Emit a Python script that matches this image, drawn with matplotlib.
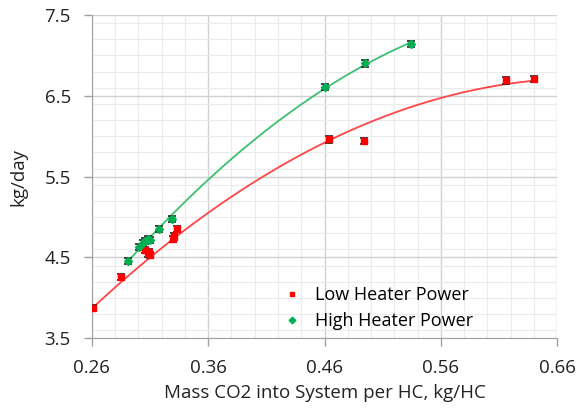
import numpy as np
import matplotlib.pyplot as plt
from matplotlib.ticker import MultipleLocator

# data
low_x = [0.261, 0.285, 0.306, 0.308, 0.309, 0.310, 0.330, 0.331, 0.333, 0.464, 0.494, 0.616, 0.640]
low_y = [3.87, 4.26, 4.59, 4.55, 4.57, 4.53, 4.73, 4.76, 4.85, 5.96, 5.945, 6.69, 6.705]
high_x = [0.291, 0.301, 0.304, 0.306, 0.308, 0.310, 0.318, 0.329, 0.460, 0.495, 0.534]
high_y = [4.46, 4.63, 4.675, 4.70, 4.725, 4.72, 4.85, 4.98, 6.61, 6.90, 7.14]
err = 0.038

# points read along the red trendline (Excel poly fit)
low_trend_x = [0.26, 0.36, 0.4386, 0.507, 0.559, 0.636]
low_trend_y = [3.87, 5.04, 5.77, 6.22, 6.47, 6.68]

red = "#FF0000"
green = "#00B050"

plt.rcParams['font.family'] = ['Open Sans', 'DejaVu Sans']

fig = plt.figure(figsize=(5.85, 4.11), dpi=100)
ax = fig.add_axes([91.7 / 585, (411 - 338.3) / 411, (557.3 - 91.7) / 585, (338.3 - 15) / 411])

# polynomial trendlines (order 2)
p = np.polyfit(low_trend_x, low_trend_y, 2)
xx = np.linspace(min(low_x), max(low_x), 200)
ax.plot(xx, np.polyval(p, xx), color="#FF4545", lw=1.3, zorder=2)
p = np.polyfit(high_x, high_y, 2)
xx = np.linspace(min(high_x), max(high_x), 200)
ax.plot(xx, np.polyval(p, xx), color="#3DC070", lw=1.3, zorder=2)

ax.errorbar(low_x, low_y, yerr=err, fmt='s', color=red, ms=4.2, mec=red,
            ecolor='#222222', elinewidth=0.8, capsize=3, capthick=1.2, zorder=3,
            label="Low Heater Power")
ax.errorbar(high_x, high_y, yerr=err, fmt='D', color=green, ms=4.2, mec=green,
            ecolor='#222222', elinewidth=0.8, capsize=3, capthick=1.2, zorder=3,
            label="High Heater Power")

ax.set_xlim(0.26, 0.66)
ax.set_ylim(3.5, 7.5)
ax.xaxis.set_minor_locator(MultipleLocator(0.02))
ax.yaxis.set_minor_locator(MultipleLocator(0.2))
ax.set_xticks([0.26, 0.36, 0.46, 0.56, 0.66])
ax.set_xticklabels(["0.26", "0.36", "0.46", "0.56", "0.66"])
ax.set_yticks([3.5, 4.5, 5.5, 6.5, 7.5])
ax.set_yticklabels(["3.5", "4.5", "5.5", "6.5", "7.5"])
ax.grid(which='major', color='#D0D0D0', lw=1.0)
ax.grid(which='minor', color='#EBEBEB', lw=0.8)
ax.set_axisbelow(True)
ax.tick_params(which='minor', length=0)
ax.tick_params(which='major', length=6, width=1, color='#A0A0A0', labelsize=13.5,
               labelcolor='#222222', pad=9)
for s in ['top', 'right']:
    ax.spines[s].set_visible(False)
for s in ['left', 'bottom']:
    ax.spines[s].set_color('#A0A0A0')

ax.set_xlabel("Mass CO2 into System per HC, kg/HC", fontsize=13.5, color='#222222', labelpad=5)
ax.set_ylabel("kg/day", fontsize=13.5, color='#222222', labelpad=12)

h, l = ax.get_legend_handles_labels()
h = [x[0] for x in h]
ax.legend(h, l, loc='lower left', bbox_to_anchor=(0.375, -0.025), frameon=False,
          fontsize=13, handlelength=1.0, handletextpad=0.8, labelspacing=0.45,
          markerscale=0.8)

fig.savefig("out.png", dpi=100)
